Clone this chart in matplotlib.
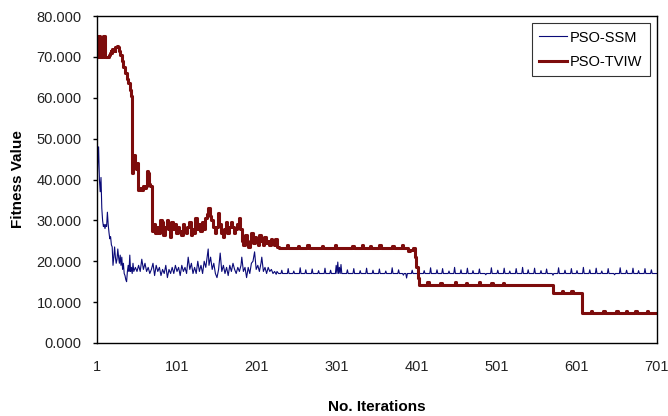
import matplotlib
matplotlib.use("Agg")
from matplotlib import pyplot as plt

plt.rcParams['font.family'] = ['Liberation Sans', 'DejaVu Sans']

# PSO-SSM, noisy part (iteration, fitness)
ssm_early = [(1,37.5),(2,44),(3,48),(4,40),(5,37),(6,40.5),(7,33),(8,30),(9,28.5),(10,29),
             (11,28),(12,29),(13,28.5),(14,32),(15,29),(16,27),(17,25.5),(18,26),(19,24),(20,23.5),
             (21,19),(22,21),(23,23.5),(24,21),(25,19.5),(26,20.5),(27,23),(28,21),(29,19.5),(30,21.5),
             (31,19),(32,21),(33,18),(34,19.5),(35,17),(36,16.5),(37,15.5),(38,15),(39,17.5),(40,19),
             (41,17.5),(42,21.5),(43,17.5),(44,18.5),(45,17),(46,19.5),(47,17.5),(49,18.5),(51,17.5),(53,19),
             (55,17.5),(57,20.5),(59,18),(61,19.5),(63,17.5),(65,18.5),(67,17),(69,18),(71,19.5),(73,16.5),
             (75,19),(77,17.5),(79,18.5),(81,16.5),(83,18),(85,17),(87,19),(89,16),(91,18),(93,17),
             (95,18.5),(97,17),(99,19),(101,17.5),(103,18.5),(105,16.5),(107,19),(109,17.5),(111,18.5),(113,17),
             (115,21),(117,18),(119,19.5),(121,17),(123,18.5),(125,17),(127,20),(129,17.5),(131,19),(133,17),
             (135,20),(137,18.5),(139,21.5),(140,23),(141,19),(143,21),(145,18),(147,19.5),(149,17),(151,16),
             (153,18),(155,22),(157,17.5),(159,19),(161,17),(163,18.5),(165,16.5),(167,19),(169,17.5),(171,19.5),
             (173,18),(175,17),(177,18.5),(179,17.5),(181,19),(182,21),(184,17.5),(186,18.5),(188,16),(190,18.5),
             (192,17),(194,19.5),(196,20),(198,22.3),(200,18),(202,19),(204,17.5),(206,19.5),(207,21),(209,17.5),
             (211,18.5),(213,17),(215,18.5),(217,17.5),(219,18),(221,17),(223,17.5),(225,16.8),(226,17.5)]

# PSO-SSM, settled part: flat level with short spikes (iteration, fitness)
ssm_level = 17.0
ssm_spikes = [(232,17.8),(240,18.2),(247,17.6),(255,18.4),(262,17.9),(270,18.1),(278,17.7),(286,18.3),
              (293,17.8),(300,19.0),(302,19.8),(304,18.5),(306,19.2),(314,17.9),(322,18.2),(330,17.7),
              (338,18.3),(346,17.8),(354,18.1),(362,17.6),(370,18.4),(378,17.9),(384,16.6),(388,15.9),
              (395,17.8),(403,18.3),(410,17.7),(418,18.4),(426,17.9),(433,18.2),(441,17.6),(448,18.5),
              (456,17.9),(464,18.3),(471,17.7),(479,18.1),(487,16.7),(494,18.4),(502,17.8),(510,18.3),
              (517,17.6),(525,18.2),(533,18.5),(540,17.9),(548,18.3),(556,17.7),(563,18.1),(571,16.6),
              (578,18.4),(586,17.8),(594,18.2),(601,17.7),(609,18.5),(617,17.9),(625,18.3),(632,17.6),
              (640,18.2),(648,16.7),(655,18.4),(663,17.8),(671,18.3),(678,17.7),(686,18.2),(694,17.9)]

# PSO-TVIW (iteration, fitness)
tviw_early = [(1,70),(2,75),(3,70),(4,75),(5,70),(6,74),(7,70),(8,75),(10,75),(11,70),
              (15,70),(16,70.5),(17,71),(18,71.5),(19,71),(20,72),(21,71.5),(22,72),(23,71.5),(24,72.5),
              (26,72.7),(27,72.5),(28,71.5),(30,70.5),(32,69),(34,67.5),(36,66),(38,64.5),(40,63.5),(42,62),
              (44,60.5),(45,41.5),(46,44),(47,46),(48,45.5),(49,43),(50,42.5),(51,44),(52,37.5),(54,38),
              (56,37.5),(58,38.5),(60,38),(62,38.5),(63,42),(65,41.5),(66,39),(67,38.5),(69,38.5),(70,27.5),
              (72,29),(74,27),(76,28.5),(78,27),(80,30),(82,29.5),(84,26.5),(86,28.5),(88,30),(90,28),
              (92,26),(94,29.5),(96,28),(98,29),(100,27),(102,28.5),(104,27.5),(106,26.5),(108,29),(110,28),
              (112,27),(114,28.5),(116,29.5),(118,26.5),(120,28),(122,27),(124,30.5),(126,28),(128,29),(130,27.5),
              (132,29.5),(134,28),(136,30.5),(138,31.5),(140,33),(142,31),(144,30),(146,28.5),(148,27),(150,28.5),
              (152,31.8),(154,29),(156,27),(158,26),(160,28),(162,29.5),(164,27),(166,28.5),(168,29.5),(170,28.5),
              (172,27),(174,28),(176,29),(178,30.5),(180,28),(182,25),(184,24),(186,26.5),(188,24.5),(190,23.5),
              (192,25),(194,27),(196,24.5),(198,26),(200,25),(202,24),(204,26.5),(206,25),(208,24),(210,26),
              (212,24.5),(214,25),(216,24),(218,25.5),(220,24.5),(222,24),(224,25.5),(226,23.5),(228,23.3)]

tviw_tail = [(236,23.3),(238,23.9),(240,23.3),(250,23.3),(252,23.8),(254,23.3),(262,23.3),(264,23.9),(266,23.3),
             (280,23.3),(282,23.8),(284,23.3),(296,23.3),(298,23.9),(300,23.3),(318,23.3),(320,23.8),(322,23.3),
             (330,23.3),(332,23.9),(334,23.3),(340,23.3),(342,23.8),(344,23.3),(352,23.3),(354,23.9),(356,23.3),
             (368,23.3),(370,23.8),(372,23.3),(380,23.3),(382,23.9),(384,23.3),(388,23.3),(390,22.4),(392,22.8),
             (396,23.3),(398,21.0),(400,18.5),(402,16.0),(403,14.3),(412,14.3),(414,14.9),(416,14.3),(428,14.3),
             (430,14.8),(432,14.3),(446,14.3),(448,14.9),(450,14.3),(460,14.3),(462,14.8),(464,14.3),(476,14.3),
             (478,14.9),(480,14.3),(492,14.3),(494,14.8),(496,14.3),(506,14.3),(508,14.8),(510,14.3),(570,14.3),
             (571,12.2),(580,12.2),(582,12.8),(584,12.2),(592,12.2),(594,12.8),(596,12.2),(606,12.2),(607,7.3),
             (616,7.3),(618,7.9),(620,7.3),(632,7.3),(634,7.8),(636,7.3),(648,7.3),(650,7.9),(652,7.3),(660,7.3),
             (662,7.8),(664,7.3),(672,7.3),(674,7.9),(676,7.3),(686,7.3),(688,7.8),(690,7.3),(701,7.3)]

x_ticks = [1, 101, 201, 301, 401, 501, 601, 701]
y_ticks = [0, 10, 20, 30, 40, 50, 60, 70, 80]

ssm_x = [p[0] for p in ssm_early] + [228]
ssm_y = [p[1] for p in ssm_early] + [ssm_level]
for sx, sy in ssm_spikes:
    ssm_x += [sx - 1, sx, sx + 1]
    ssm_y += [ssm_level, sy, ssm_level]
ssm_x.append(701)
ssm_y.append(ssm_level)

tviw_x = [p[0] for p in tviw_early + tviw_tail]
tviw_y = [p[1] for p in tviw_early + tviw_tail]

fig = plt.figure(figsize=(6.68, 4.16), dpi=100)
ax = fig.add_axes([0.1452, 0.1755, 0.8383, 0.786])

ax.plot(ssm_x, ssm_y, color='#0a0a78', linewidth=0.8, label='PSO-SSM')
ax.plot(tviw_x, tviw_y, color='#7d0c0c', linewidth=2.2, label='PSO-TVIW',
        drawstyle='steps-post')

ax.set_xlim(1, 701)
ax.set_ylim(0, 80)
ax.set_xticks(x_ticks)
ax.set_xticklabels([str(t) for t in x_ticks])
ax.set_yticks(y_ticks)
ax.set_yticklabels(['%.3f' % t for t in y_ticks])
ax.tick_params(axis='y', direction='out', length=3, width=1, pad=8, labelsize=10.5, labelcolor='#222222')
ax.tick_params(axis='x', length=0, pad=12, labelsize=10.5, labelcolor='#222222')
for s in ax.spines.values():
    s.set_color('black')
    s.set_linewidth(1)

ax.set_xlabel('No. Iterations', fontsize=11, fontweight='bold', labelpad=19)
ax.set_ylabel('Fitness Value', fontsize=11, fontweight='bold', labelpad=8)

leg = ax.legend(loc='upper right', fontsize=10.5, frameon=True, fancybox=False,
                edgecolor='black', handlelength=1.9, handletextpad=0.2,
                borderaxespad=0.5, borderpad=0.5, labelspacing=0.7)
leg.get_frame().set_linewidth(0.8)

plt.savefig('out.png', dpi=100)
